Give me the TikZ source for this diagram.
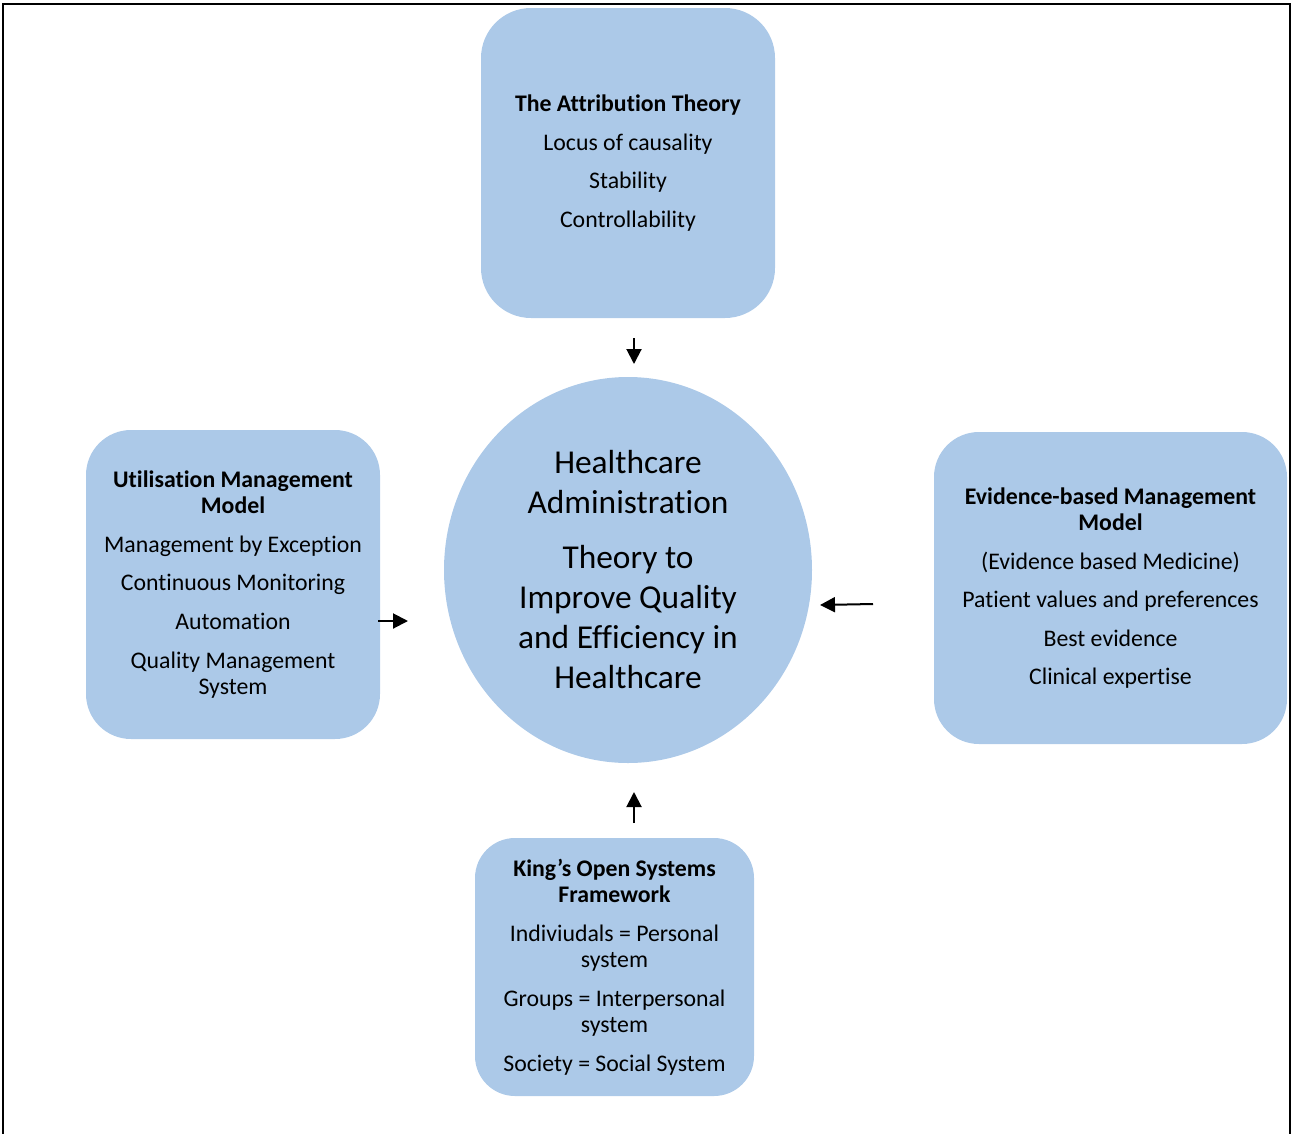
\documentclass[tikz,border=0pt]{standalone}
\usepackage{fontspec}
\setmainfont[Ligatures=NoCommon]{Carlito}
\usetikzlibrary{arrows.meta,shapes.geometric}
\definecolor{boxblue}{RGB}{172,201,232}
\begin{document}
\begin{tikzpicture}[x=1pt,y=-1pt,
  panel/.style={fill=boxblue,draw=none,rounded corners=#1,align=center,inner sep=0pt,
    font=\fontsize{23.8}{26.4}\selectfont},
  hub/.style={ellipse,fill=boxblue,draw=none,minimum width=368pt,minimum height=386pt,
    align=center,inner sep=0pt,font=\fontsize{33.4}{40}\selectfont},
  link/.style={line width=2pt,-{Triangle[length=15pt,width=15pt]}}]
\useasboundingbox (0,0) rectangle (1291,1133);
% page frame, open at the bottom
\draw[line width=2.5pt] (3,1140) -- (3,4) -- (1290,4) -- (1290,1140);

% central theory
\node[hub] (hub) at (628,570) {Healthcare\\Administration\\[15pt]Theory to\\Improve Quality\\and Efficiency in\\Healthcare};

% surrounding models
\node[panel=50pt,minimum width=294pt,minimum height=310pt] (attr) at (628,163)
  {\textbf{The Attribution Theory}\\[12.2pt]Locus of causality\\[12.2pt]Stability\\[12.2pt]Controllability};
\node[panel=45pt,minimum width=294pt,minimum height=309pt] (util) at (233,584.5)
  {\textbf{Utilisation Management}\\\textbf{Model}\\[12.2pt]Management by Exception\\[12.2pt]Continuous Monitoring\\[12.2pt]Automation\\[12.2pt]Quality Management\\System};
\node[panel=45pt,minimum width=353pt,minimum height=312pt] (ebm) at (1110.5,588)
  {\textbf{Evidence-based Management}\\\textbf{Model}\\[12.2pt](Evidence based Medicine)\\[12.2pt]Patient values and preferences\\[12.2pt]Best evidence\\[12.2pt]Clinical expertise};
\node[panel=40pt,minimum width=279pt,minimum height=258pt] (king) at (614.5,967)
  {\textbf{King’s Open Systems}\\\textbf{Framework}\\[12.2pt]Indiviudals = Personal\\system\\[12.2pt]Groups = Interpersonal\\system\\[12.2pt]Society = Social System};

% arrow end points in the gaps
\coordinate (a1) at (634,338); \coordinate (a2) at (634,364);
\coordinate (b1) at (378,621); \coordinate (b2) at (408,621);
\coordinate (c1) at (873,604); \coordinate (c2) at (820,605);
\coordinate (d1) at (634,823); \coordinate (d2) at (634,792);
\draw[link] (a1) -- (a2);
\draw[link] (b1) -- (b2);
\draw[link] (c1) -- (c2);
\draw[link] (d1) -- (d2);
\end{tikzpicture}
\end{document}
